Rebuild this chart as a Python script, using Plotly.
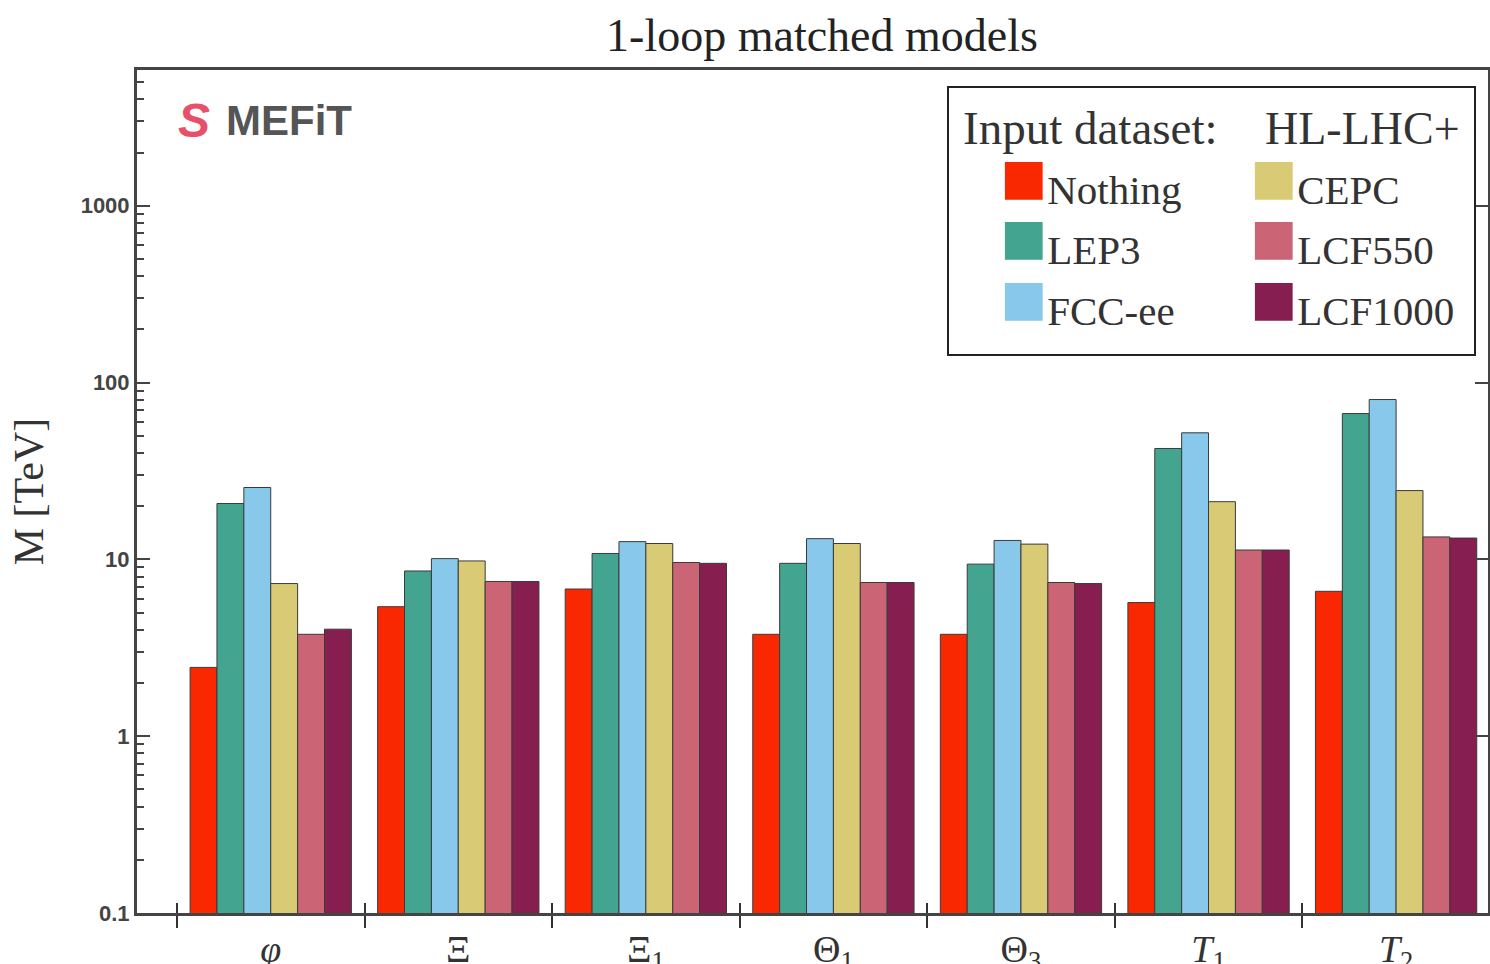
import plotly.graph_objects as go

categories = ["<i>φ</i>", "Ξ", "Ξ<sub>1</sub>", "Θ<sub>1</sub>", "Θ<sub>3</sub>", "<i>T</i><sub>1</sub>", "<i>T</i><sub>2</sub>"]
series_names = ["Nothing", "LEP3", "FCC-ee", "CEPC", "LCF550", "LCF1000"]
nothing = [2.45, 5.4, 6.8, 3.77, 3.77, 5.7, 6.6]
lep3 = [20.7, 8.6, 10.8, 9.5, 9.4, 42.4, 66.8]
fccee = [25.5, 10.1, 12.6, 13.1, 12.8, 52.0, 80.2]
cepc = [7.3, 9.8, 12.3, 12.3, 12.2, 21.2, 24.5]
lcf550 = [3.77, 7.5, 9.6, 7.4, 7.4, 11.3, 13.4]
lcf1000 = [4.03, 7.5, 9.5, 7.4, 7.3, 11.3, 13.2]
colors = ["#fa2800", "#43a590", "#88c8ea", "#d9cb75", "#cb6575", "#871e50"]
legend_column = ["legend", "legend", "legend", "legend2", "legend2", "legend2"]
major_ticks = [0.1, 1, 10, 100, 1000]
major_labels = ["0.1", "1", "10", "100", "1000"]
minor_ticks = [m * 10.0 ** e for e in range(-1, 4) for m in range(2, 10)]

values = [nothing, lep3, fccee, cepc, lcf550, lcf1000]

serif = "Liberation Serif"
W, H = 1490, 964
fig = go.Figure()
for name, vals, col in zip(series_names, values, colors):
    fig.add_trace(go.Bar(x=categories, y=vals, name=name,
                         marker=dict(color=col, line=dict(color="#3a3a3a", width=1)),
                         showlegend=False))
for name, col, lg in zip(series_names, colors, legend_column):
    fig.add_trace(go.Scatter(
        x=[None], y=[None], mode="markers", legend=lg, legendgroup=name,
        name=f"<span style='font-size:78px;color:{col}'>■</span>{name}",
        marker=dict(size=1, color="rgba(0,0,0,0)")))

fig.add_trace(go.Scatter(x=[None], y=[None], xaxis="x2", yaxis="y2", showlegend=False))

def px(xs):
    return (xs - 137) / 1351

def py(ys):
    return (913 - ys) / 843

xr = [-0.713, 6.49]
yr = [-1, 3.768]
fig.update_layout(
    width=W, height=H,
    margin=dict(l=137, r=2, t=70, b=H - 913),
    plot_bgcolor="white", paper_bgcolor="white",
    barmode="group", bargap=0.14, bargroupgap=0,
    title=dict(text="1-loop matched models", x=822 / W, xanchor="center", y=1 - 35 / H,
               yanchor="middle", font=dict(family=serif, size=46, color="#222")),
    xaxis=dict(type="category", range=xr, tickson="boundaries", ticks="outside", ticklen=12, tickwidth=2,
               tickcolor="#333", showline=True, linecolor="#444", linewidth=3, mirror=True, automargin=False,
               tickfont=dict(family=serif, size=38, color="#333"), showgrid=False),
    xaxis2=dict(overlaying="x", range=xr, tickvals=[-0.5, 0.5, 1.5, 2.5, 3.5, 4.5, 5.5, 6.5], ticks="inside",
                ticklen=10, tickwidth=2, tickcolor="#333", showticklabels=False, showgrid=False,
                zeroline=False, side="bottom", anchor="y", automargin=False),
    yaxis=dict(type="log", range=yr, tickvals=major_ticks, ticktext=major_labels,
               ticks="inside", ticklen=13, tickwidth=2, automargin=False,
               tickcolor="#444", showline=True, linecolor="#444", linewidth=3, mirror="ticks",
               showgrid=False, zeroline=False,
               tickfont=dict(family="Liberation Sans", size=22, color="#444", weight="bold"),
               title=dict(text="M [TeV]", font=dict(family=serif, size=42, color="#333"), standoff=24)),
    yaxis2=dict(type="log", range=yr, overlaying="y", anchor="x", side="left", tickvals=minor_ticks,
                ticks="inside", ticklen=7, tickwidth=2, tickcolor="#444", showticklabels=False,
                showgrid=False, zeroline=False, showline=False, automargin=False),
    legend=dict(x=px(960), xanchor="left", y=py(155), yanchor="top",
                orientation="v", bgcolor="rgba(0,0,0,0)", borderwidth=0, tracegroupgap=4,
                font=dict(family=serif, size=41, color="#333")),
    legend2=dict(x=px(1210), xanchor="left", y=py(155), yanchor="top",
                 orientation="v", bgcolor="rgba(0,0,0,0)", borderwidth=0, tracegroupgap=4,
                 font=dict(family=serif, size=41, color="#333")),
    shapes=[dict(type="rect", xref="paper", yref="paper", x0=px(948), x1=px(1475),
                 y0=py(355), y1=py(87), line=dict(color="#222", width=2),
                 fillcolor="rgba(0,0,0,0)", layer="above")],
    annotations=[
        dict(text="<b><i>S</i></b>", xref="paper", yref="paper", x=px(176), y=py(120), xanchor="left",
             yanchor="middle", showarrow=False, font=dict(family="Liberation Sans", size=48, color="#e8506a")),
        dict(text="<b>MEFiT</b>", xref="paper", yref="paper", x=px(224), y=py(120), xanchor="left",
             yanchor="middle", showarrow=False, font=dict(family="Liberation Sans", size=42, color="#555")),
        dict(text="Input dataset:", xref="paper", yref="paper", x=px(961), y=py(128), xanchor="left",
             yanchor="middle", showarrow=False, font=dict(family=serif, size=47, color="#333")),
        dict(text="HL-LHC+", xref="paper", yref="paper", x=px(1263), y=py(128), xanchor="left",
             yanchor="middle", showarrow=False, font=dict(family=serif, size=46, color="#333")),
    ],
)

fig.write_html("out.html", config={"displayModeBar": False},
               post_script="document.body.style.margin='0';document.body.style.overflow='hidden';")
